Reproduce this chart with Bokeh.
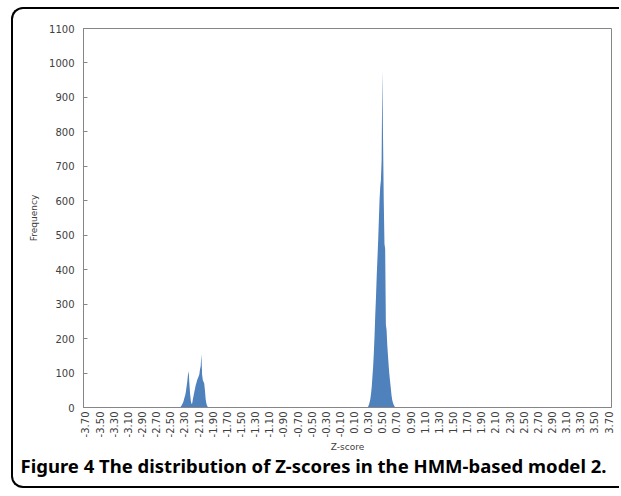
from bokeh.plotting import figure
from bokeh.models import Range1d, FixedTicker, Title
from bokeh.embed import file_html
from bokeh.resources import INLINE

# ---- data ----
z_left = [-2.37, -2.36, -2.35, -2.34, -2.33, -2.32, -2.31, -2.30, -2.29, -2.28,
          -2.27, -2.26, -2.25, -2.24, -2.23, -2.22, -2.21, -2.20, -2.19, -2.18,
          -2.17, -2.16, -2.15, -2.14, -2.13, -2.12, -2.11, -2.10, -2.09, -2.08,
          -2.07, -2.06, -2.05, -2.04, -2.03, -2.02, -2.01, -2.00, -1.99, -1.98,
          -1.97, -1.96]
freq_left = [0, 1, 3, 6, 10, 14, 20, 28, 35, 45,
             60, 75, 95, 105, 70, 40, 20, 10, 12, 25,
             35, 45, 55, 65, 72, 80, 85, 90, 95, 110,
             120, 155, 95, 80, 75, 70, 50, 25, 12, 5,
             2, 0]

z_mid = [0.29, 0.30, 0.31, 0.32, 0.33, 0.34, 0.35, 0.36, 0.37, 0.38,
         0.39, 0.40, 0.41, 0.42, 0.43, 0.44, 0.45, 0.46, 0.47, 0.48,
         0.49, 0.50, 0.51, 0.52, 0.53, 0.54, 0.55, 0.56, 0.57, 0.58,
         0.59, 0.60, 0.61, 0.62, 0.63, 0.64, 0.65, 0.66, 0.67, 0.68]
freq_mid = [0, 3, 8, 15, 25, 40, 60, 90, 120, 160,
            210, 270, 320, 380, 430, 480, 540, 600, 640, 660,
            720, 980, 780, 600, 475, 460, 240, 225, 180, 150,
            120, 95, 75, 55, 35, 22, 14, 8, 4, 0]

x_tick_labels = ["-3.70", "-3.50", "-3.30", "-3.10", "-2.90", "-2.70", "-2.50",
                 "-2.30", "-2.10", "-1.90", "-1.70", "-1.50", "-1.30", "-1.10",
                 "-0.90", "-0.70", "-0.50", "-0.30", "-0.10", "0.10", "0.30",
                 "0.50", "0.70", "0.90", "1.10", "1.30", "1.50", "1.70", "1.90",
                 "2.10", "2.30", "2.50", "2.70", "2.90", "3.10", "3.30", "3.50",
                 "3.70"]
y_ticks = [0, 100, 200, 300, 400, 500, 600, 700, 800, 900, 1000, 1100]

caption = "Figure 4 The distribution of Z-scores in the HMM-based model 2."

AXIS_GRAY = "#868686"
TEXT = "#404040"
FONT = "DejaVu Sans"

p = figure(width=608, height=481, output_backend="svg", toolbar_location=None,
           x_range=Range1d(-3.728, 3.742), y_range=Range1d(0, 1100),
           min_border_left=70, min_border_right=10, min_border_top=19,
           min_border_bottom=83, background_fill_color="white",
           border_fill_color=None)
p.styles = {
    "margin-left": "11px",
    "margin-top": "7px",
    "border-left": "2px solid black",
    "border-top": "2px solid black",
    "border-bottom": "2px solid black",
    "border-right": "none",
    "border-radius": "12px 0 0 12px",
}
p.outline_line_color = AXIS_GRAY
p.outline_line_width = 1
p.xgrid.visible = False
p.ygrid.visible = False

p.varea(x=z_left, y1=0, y2=freq_left, fill_color="#4F81BD")
p.varea(x=z_mid, y1=0, y2=freq_mid, fill_color="#4F81BD")

xt = [float(s) for s in x_tick_labels]
p.xaxis.ticker = FixedTicker(ticks=xt)
p.xaxis.major_label_overrides = {v: s for v, s in zip(xt, x_tick_labels)}
p.xaxis.major_label_orientation = 3.14159265 / 2
p.xaxis.major_tick_out = 0
p.xaxis.major_tick_in = 0
p.xaxis.minor_tick_out = 0
p.xaxis.minor_tick_in = 0
p.xaxis.major_label_standoff = 4
p.xaxis.axis_label = "Z-score"
p.xaxis.axis_label_standoff = 2

p.yaxis.ticker = FixedTicker(ticks=y_ticks)
p.yaxis.major_tick_in = 4
p.yaxis.major_tick_out = 0
p.yaxis.minor_tick_out = 0
p.yaxis.minor_tick_in = 0
p.yaxis.major_label_standoff = 9
p.yaxis.axis_label = "Frequency"
p.yaxis.axis_label_standoff = 7

for ax in (p.xaxis[0], p.yaxis[0]):
    ax.axis_line_color = AXIS_GRAY
    ax.major_tick_line_color = AXIS_GRAY
    ax.major_label_text_font = FONT
    ax.major_label_text_font_size = "10px"
    ax.major_label_text_color = TEXT
    ax.axis_label_text_font = FONT
    ax.axis_label_text_font_size = "9px"
    ax.axis_label_text_font_style = "normal"
    ax.axis_label_text_color = TEXT

cap = Title(text=caption, align="left", offset=-63, standoff=-10,
            text_font="Noto Sans", text_font_style="bold",
            text_font_size="18.5px", text_color="black")
p.add_layout(cap, "below")

open("out.html", "w").write(file_html(p, INLINE))
